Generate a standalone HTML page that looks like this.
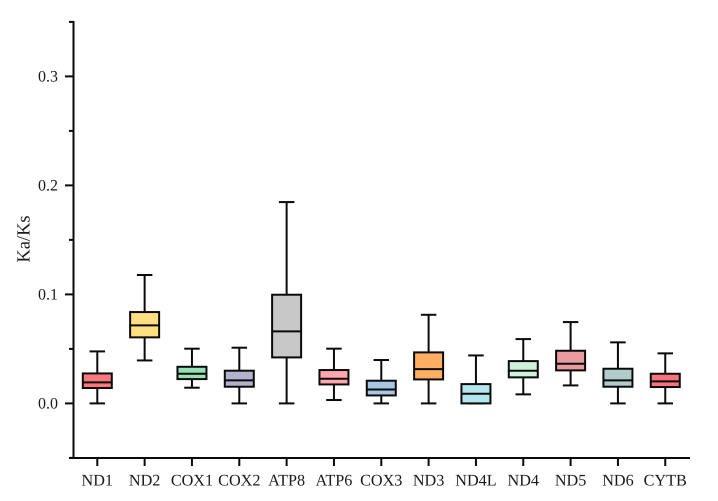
<!DOCTYPE html>
<html lang="en">
<head>
<meta charset="utf-8">
<title>Ka/Ks box plot</title>
<style>
html,body{margin:0;padding:0;background:#fff;}
svg{display:block;}
text{font-family:"Liberation Serif",serif;fill:#1a1a1a;text-rendering:geometricPrecision;}
</style>
</head>
<body>
<svg id="chart" xmlns="http://www.w3.org/2000/svg" width="718" height="501" viewBox="0 0 718 501"></svg>
<script>
const categories = ["ND1","ND2","COX1","COX2","ATP8","ATP6","COX3","ND3","ND4L","ND4","ND5","ND6","CYTB"];
const whiskerHigh = [0.0477,0.1178,0.0502,0.0511,0.1847,0.0502,0.0398,0.0813,0.0440,0.0590,0.0746,0.0560,0.0459];
const boxHigh     = [0.0275,0.0838,0.0336,0.0300,0.0997,0.0306,0.0208,0.0468,0.0177,0.0388,0.0483,0.0318,0.0272];
const medians     = [0.0193,0.0716,0.0272,0.0211,0.0661,0.0226,0.0128,0.0315,0.0089,0.0300,0.0364,0.0211,0.0202];
const boxLow      = [0.0141,0.0606,0.0223,0.0153,0.0422,0.0174,0.0073,0.0220,0.0000,0.0239,0.0303,0.0153,0.0150];
const whiskerLow  = [0.0000,0.0394,0.0144,0.0000,0.0000,0.0031,0.0000,0.0000,0.0000,0.0083,0.0165,0.0000,0.0000];
const fills = ["#F8787C","#FFDF80","#96E0B4","#B2B2CC","#C8C8C8","#FFA6AE","#A6C8E2","#FFAE62","#B4E6EE","#CFF2DC","#E89CA0","#B2CCCA","#F8747C"];
const majorTicks = [0, 0.1, 0.2, 0.3];
const minorTicks = [-0.05, 0.05, 0.15, 0.25, 0.35];
const yLabel = "Ka/Ks";

const svg = document.getElementById('chart');
const NS = 'http://www.w3.org/2000/svg';
const INK = '#0a0a0a';
const SW = 2;
const plotLeft = 73.5, plotRight = 690, plotBottom = 458, plotTop = 21;
const firstCenter = 97.3, bandStep = 47.33;
const boxWidth = 29, capWidth = 15.5;

function yScale(v) { return 403.4 - 1090 * v; }
function xScale(i) { return firstCenter + bandStep * i; }

function line(parent, x1, y1, x2, y2) {
  const el = document.createElementNS(NS, 'line');
  el.setAttribute('x1', x1);
  el.setAttribute('y1', y1);
  el.setAttribute('x2', x2);
  el.setAttribute('y2', y2);
  el.setAttribute('stroke', INK);
  el.setAttribute('stroke-width', SW);
  parent.appendChild(el);
  return el;
}
function label(parent, x, y, str, anchor, size) {
  const el = document.createElementNS(NS, 'text');
  el.setAttribute('x', x);
  el.setAttribute('y', y);
  el.setAttribute('text-anchor', anchor);
  el.setAttribute('font-size', size);
  el.textContent = str;
  parent.appendChild(el);
  return el;
}

const yAxis = document.createElementNS(NS, 'g');


svg.appendChild(yAxis);
const yLine = line(yAxis, plotLeft, plotTop, plotLeft, plotBottom + 1);



majorTicks.forEach(function (t) {
  const tick = line(yAxis, plotLeft - 8.5, yScale(t), plotLeft, yScale(t));
  
  
  const tl = label(yAxis, 58, yScale(t) + 5.2, t.toFixed(1), 'end', 16);
  
  
});
minorTicks.forEach(function (t) {
  const tick = line(yAxis, plotLeft - 4.5, yScale(t), plotLeft, yScale(t));
  
  
});

const yTitle = label(svg, 0, 0, yLabel, 'middle', 18.5);
yTitle.setAttribute('transform', 'translate(29.5 239) rotate(-90)');



const xAxis = document.createElementNS(NS, 'g');


svg.appendChild(xAxis);
const xLine = line(xAxis, plotLeft - 4.5, plotBottom, plotRight, plotBottom);



categories.forEach(function (name, i) {
  const cx = xScale(i);
  const tick = line(xAxis, cx, plotBottom, cx, plotBottom + 8);
  
  
  const tl = label(xAxis, cx, 485.5, name, 'middle', 16.2);
  
  

  const g = document.createElementNS(NS, 'g');
  
  
  svg.appendChild(g);

  const upper = line(g, cx, yScale(whiskerHigh[i]), cx, yScale(boxHigh[i]));
  
  
  const lower = line(g, cx, yScale(boxLow[i]), cx, yScale(whiskerLow[i]));
  
  
  const capHigh = line(g, cx - capWidth / 2, yScale(whiskerHigh[i]), cx + capWidth / 2, yScale(whiskerHigh[i]));
  
  
  const capLow = line(g, cx - capWidth / 2, yScale(whiskerLow[i]), cx + capWidth / 2, yScale(whiskerLow[i]));
  
  

  const rect = document.createElementNS(NS, 'rect');
  rect.setAttribute('x', cx - boxWidth / 2);
  rect.setAttribute('y', yScale(boxHigh[i]));
  rect.setAttribute('width', boxWidth);
  rect.setAttribute('height', yScale(boxLow[i]) - yScale(boxHigh[i]));
  rect.setAttribute('fill', fills[i]);
  rect.setAttribute('stroke', INK);
  rect.setAttribute('stroke-width', SW);
  
  
  g.appendChild(rect);

  const med = line(g, cx - boxWidth / 2, yScale(medians[i]), cx + boxWidth / 2, yScale(medians[i]));
  
  
});
</script>
</body>
</html>
